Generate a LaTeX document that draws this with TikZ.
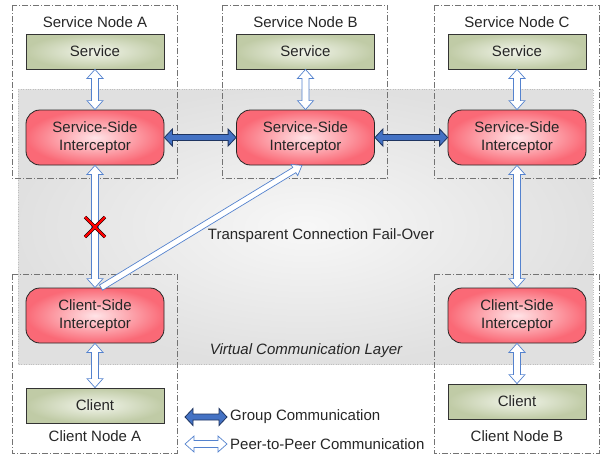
\documentclass[tikz,border=0pt]{standalone}
\usepackage{fontspec}
\setmainfont{Liberation Sans}
\usetikzlibrary{calc}
\usetikzlibrary{positioning}
\definecolor{pblue}{RGB}{84,130,206}
\definecolor{gblue}{RGB}{68,114,196}
\definecolor{gedge}{RGB}{30,52,96}
\definecolor{svcgreen}{RGB}{192,203,166}
\definecolor{svclight}{RGB}{242,245,235}
\definecolor{icred}{RGB}{250,105,118}
\definecolor{iclight}{RGB}{255,228,231}
\tikzset{twohead/.style n args = {3}{to path = {
  -- ($(\tikztostart)!#1!(\tikztotarget)!#2!90:(\tikztotarget)$)
  -- ($(\tikztostart)!#1!(\tikztotarget)!#3!90:(\tikztotarget)$)
  -- ($(\tikztotarget)!#1!(\tikztostart)!#3!-90:(\tikztostart)$)
  -- ($(\tikztotarget)!#1!(\tikztostart)!#2!-90:(\tikztostart)$)
  -- (\tikztotarget)
  -- ($(\tikztotarget)!#1!(\tikztostart)!#2!90:(\tikztostart)$)
  -- ($(\tikztotarget)!#1!(\tikztostart)!#3!90:(\tikztostart)$)
  -- ($(\tikztostart)!#1!(\tikztotarget)!#3!-90:(\tikztotarget)$)
  -- ($(\tikztostart)!#1!(\tikztotarget)!#2!-90:(\tikztotarget)$)
  -- cycle}}}
\tikzset{onehead/.style n args = {3}{to path = {
  -- ($(\tikztostart)!#3!90:(\tikztotarget)$)
  -- ($(\tikztotarget)!#1!(\tikztostart)!#3!-90:(\tikztostart)$)
  -- ($(\tikztotarget)!#1!(\tikztostart)!#2!-90:(\tikztostart)$)
  -- (\tikztotarget)
  -- ($(\tikztotarget)!#1!(\tikztostart)!#2!90:(\tikztostart)$)
  -- ($(\tikztotarget)!#1!(\tikztostart)!#3!90:(\tikztostart)$)
  -- ($(\tikztostart)!#3!-90:(\tikztotarget)$)
  -- cycle}}}
\tikzset{peer/.style = {draw=pblue, fill=white, line width=0.7pt, twohead={9pt}{8pt}{3.5pt}}}
\tikzset{failover/.style = {draw=pblue, fill=white, line width=0.7pt, onehead={9pt}{6.5pt}{3pt}}}
\tikzset{group/.style = {draw=gedge, fill=gblue, line width=0.8pt, twohead={8pt}{8.5pt}{3pt}}}
\tikzset{frame/.style = {draw=black!55, line width=0.6pt, dash pattern=on 6pt off 2pt on 1pt off 2pt}}
\tikzset{layer/.style = {draw=black!25, dotted, inner color=black!3, outer color=black!12}}
\tikzset{svcbox/.style = {draw=black!80, line width=0.8pt, inner color=svclight, outer color=svcgreen,
                          minimum width=138pt, minimum height=35pt}}
\tikzset{icbox/.style = {draw=black!85, line width=0.8pt, rounded corners=14pt, inner color=iclight,
                         outer color=icred, minimum width=138pt, minimum height=55pt, align=center}}
\tikzset{xmark/.style = {draw=black, line width=0.5pt, double=red, double distance=2.2pt}}

\begin{document}
\begin{tikzpicture}[x=1pt, y=-1pt, font=\fontsize{15}{18}\selectfont, text=black!85]
  \useasboundingbox (0,0) rectangle (600,455);
  \draw [layer] (18,89) rectangle (593,364);

  \foreach \id/\x in {A/95, B/305.5, C/517} {
    \draw [frame] (\x-83,5) rectangle (\x+82,178);
    \node (tit\id) at (\x,22) {Service Node \id};
    \node [svcbox] (svc\id) at (\x,51.5) {Service};
    \node [icbox] (sv\id) at (\x,137.5) {Service-Side\\Interceptor};
    \draw [peer] (svc\id.south) to (sv\id.north);
  }

  \draw [frame] (12,274) rectangle (177,453);
  \draw [frame] (434,274) rectangle (599,453);
  \node [icbox] (clA) at (95,315.5) {Client-Side\\Interceptor};
  \node [icbox] (clB) at (517,315.5) {Client-Side\\Interceptor};
  \node [svcbox] (cliA) at (95,405.5) {Client};
  \node [svcbox] (cliB) at (517,401.5) {Client};
  \node (labA) at (95,436) {Client Node A};
  \node (labB) at (517,436) {Client Node B};

  \draw [group] (svA.east) to (svB.west);
  \draw [group] (svB.east) to (svC.west);
  \draw [peer] (svA.south) to (clA.north);
  \draw [peer] (svC.south) to (clB.north);
  \draw [peer] (clA.south) to (cliA.north);
  \draw [peer] (clB.south) to (cliB.north);

  \coordinate (foA) at ([xshift=6pt]clA.north);
  \coordinate (foB) at ([xshift=-3.5pt]svB.south);
  \draw [failover] (foA) to (foB);
  \draw [xmark] (85,217) -- (105,237) (105,217) -- (85,237);

  \node (fail) at (321,236) {Transparent Connection Fail-Over};
  \node [font=\fontsize{15}{18}\selectfont\itshape] (vcl) at (306,351) {Virtual Communication Layer};

  % legend
  \coordinate (lg1) at (185,417);
  \coordinate (lg2) at (227,417);
  \coordinate (lg3) at (185,444);
  \coordinate (lg4) at (227,444);
  \draw [group] (lg1) to (lg2);
  \draw [peer] (lg3) to (lg4);
  \node [right=2pt of lg2, inner sep=1pt] (lgtxt1) {Group Communication};
  \node [right=2pt of lg4, inner sep=1pt] (lgtxt2) {Peer-to-Peer Communication};
\end{tikzpicture}
\end{document}
